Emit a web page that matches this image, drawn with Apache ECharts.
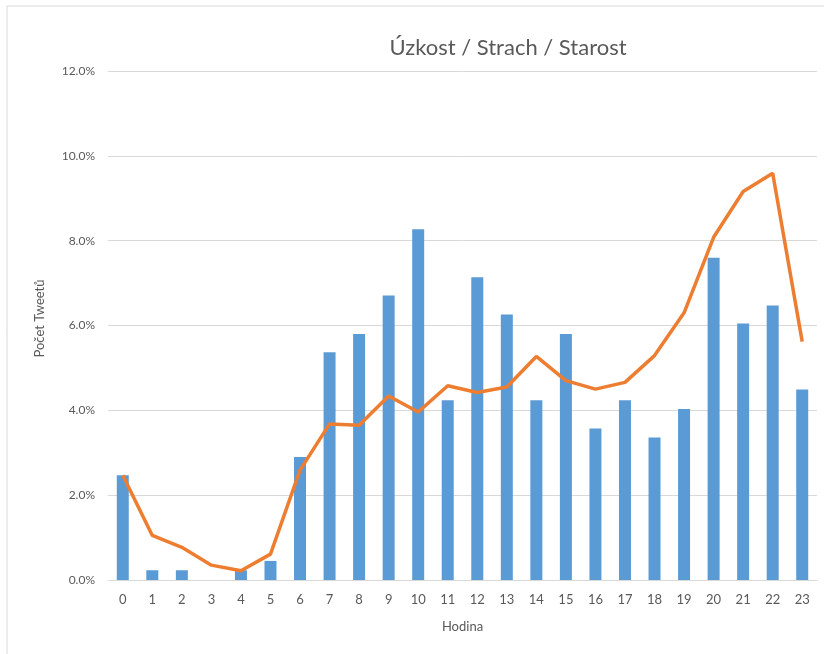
<!DOCTYPE html>
<html>
<head>
<meta charset="utf-8">
<script src="https://cdn.jsdelivr.net/npm/echarts@6/dist/echarts.min.js"></script>
<style>html,body{margin:0;padding:0;background:#fff}#c{width:824px;height:654px}</style>
</head>
<body>
<div id="c"></div>
<script>
const hours = ['0','1','2','3','4','5','6','7','8','9','10','11','12','13','14','15','16','17','18','19','20','21','22','23'];
const barValues = [2.47,0.23,0.23,0,0.23,0.45,2.90,5.37,5.80,6.71,8.27,4.24,7.14,6.26,4.24,5.80,3.57,4.24,3.36,4.03,7.60,6.05,6.47,4.49];
const lineValues = [2.47,1.05,0.77,0.35,0.22,0.61,2.59,3.68,3.65,4.34,3.96,4.58,4.42,4.55,5.27,4.70,4.50,4.66,5.29,6.30,8.08,9.16,9.59,5.62];
const yTicks = [0,2,4,6,8,10,12];

const font = 'Lato, "Open Sans", sans-serif';
const chart = echarts.init(document.getElementById('c'));
chart.setOption({
  animation: false,
  backgroundColor: '#fff',
  graphic: [{
    type: 'rect', shape: {x: 7, y: 6, width: 830, height: 660},
    style: {fill: 'none', stroke: '#d9d9d9', lineWidth: 1}, silent: true, z: -1
  }],
  title: {
    text: 'Úzkost / Strach / Starost',
    left: 503, top: 32, textAlign: 'center',
    textStyle: {fontFamily: font, fontSize: 22, fontWeight: 'normal', color: '#595959'}
  },
  grid: {left: 108, right: 7, top: 71, bottom: 74, containLabel: false},
  xAxis: {
    type: 'category', data: hours,
    name: 'Hodina', nameLocation: 'middle', nameGap: 40,
    nameTextStyle: {fontFamily: font, fontSize: 13, color: '#595959'},
    axisLine: {lineStyle: {color: '#d9d9d9', width: 1}},
    axisTick: {show: false},
    axisLabel: {fontFamily: font, fontSize: 13, color: '#595959', margin: 13, interval: 0}
  },
  yAxis: {
    type: 'value', min: yTicks[0], max: yTicks[yTicks.length-1], interval: 2,
    name: 'Počet Tweetů', nameLocation: 'middle', nameGap: 62, nameRotate: 90,
    nameTextStyle: {fontFamily: font, fontSize: 13, color: '#595959', padding: [0, 0, 0, 14]},
    axisLine: {show: false}, axisTick: {show: false},
    splitLine: {lineStyle: {color: '#d9d9d9', width: 1}},
    axisLabel: {fontFamily: font, fontSize: 12, color: '#595959', margin: 13,
      formatter: v => v.toFixed(1) + '%'}
  },
  series: [{
    type: 'bar', data: barValues, barWidth: 12,
    itemStyle: {color: '#5b9bd5'}
  }, {
    type: 'line', data: lineValues, symbol: 'none',
    lineStyle: {color: '#ed7d31', width: 3.5}, z: 3
  }]
});
</script>
</body>
</html>
